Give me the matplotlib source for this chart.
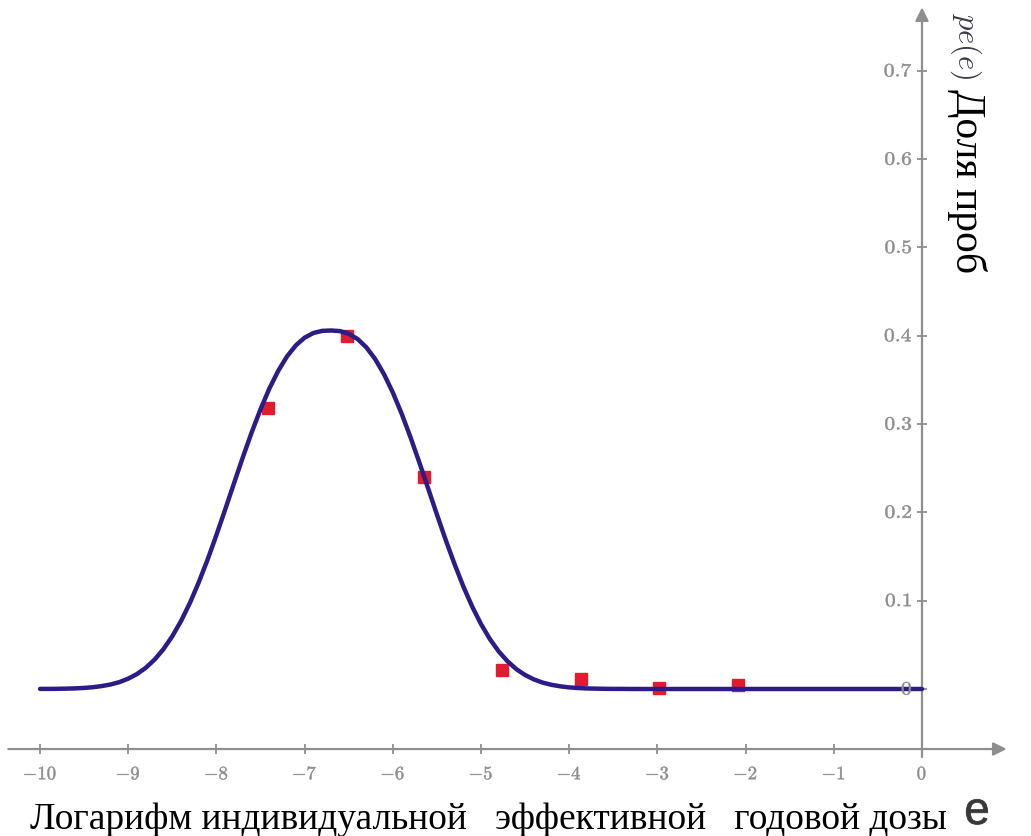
import numpy as np
import matplotlib
matplotlib.use("Agg")
import matplotlib.pyplot as plt
from matplotlib.patheffects import AbstractPathEffect
from matplotlib.transforms import Affine2D

plt.rcParams['mathtext.fontset'] = 'cm'

# ---------------- data ----------------
curve_x = [-10.0, -9.9, -9.8, -9.7, -9.6, -9.5, -9.4, -9.3, -9.2, -9.1,
           -9.0, -8.9, -8.8, -8.7, -8.6, -8.5, -8.4, -8.3, -8.2, -8.1,
           -8.0, -7.9, -7.8, -7.7, -7.6, -7.5, -7.4, -7.3, -7.2, -7.1,
           -7.0, -6.9, -6.8, -6.7, -6.6, -6.5, -6.4, -6.3, -6.2, -6.1,
           -6.0, -5.9, -5.8, -5.7, -5.6, -5.5, -5.4, -5.3, -5.2, -5.1,
           -5.0, -4.9, -4.8, -4.7, -4.6, -4.5, -4.4, -4.3, -4.2, -4.1,
           -4.0, -3.9, -3.8, -3.7, -3.6, -3.5, -3.4, -3.3, -3.2, -3.0,
           -2.5, -2.0, -1.5, -1.0, -0.5, 0.0]
curve_y = [0.0001, 0.0001, 0.0002, 0.0004, 0.0007, 0.0012, 0.0020, 0.0033, 0.0051, 0.0078,
           0.0117, 0.0170, 0.0241, 0.0334, 0.0452, 0.0598, 0.0772, 0.0976, 0.1209, 0.1466,
           0.1744, 0.2035, 0.2332, 0.2626, 0.2907, 0.3168, 0.3402, 0.3602, 0.3766, 0.3891,
           0.3979, 0.4032, 0.4056, 0.4060, 0.4053, 0.4023, 0.3964, 0.3869, 0.3736, 0.3565,
           0.3358, 0.3118, 0.2852, 0.2568, 0.2273, 0.1976, 0.1687, 0.1414, 0.1160, 0.0933,
           0.0735, 0.0566, 0.0426, 0.0314, 0.0225, 0.0158, 0.0108, 0.0072, 0.0047, 0.0030,
           0.0018, 0.0011, 0.0006, 0.0004, 0.0002, 0.0001, 0.0001, 0.0, 0.0, 0.0,
           0.0, 0.0, 0.0, 0.0, 0.0, 0.0]

points_x = [-7.42, -6.52, -5.65, -4.76, -3.87, -2.98, -2.09]
points_y = [0.318, 0.400, 0.240, 0.0215, 0.011, 0.0015, 0.0045]

x_ticks = [-10, -9, -8, -7, -6, -5, -4, -3, -2, -1, 0]
x_tick_labels = [r'$-10$', r'$-9$', r'$-8$', r'$-7$', r'$-6$', r'$-5$',
                 r'$-4$', r'$-3$', r'$-2$', r'$-1$', r'$0$']
y_ticks = [0.0, 0.1, 0.2, 0.3, 0.4, 0.5, 0.6, 0.7]
y_tick_labels = [r'$0$', r'$0.1$', r'$0.2$', r'$0.3$', r'$0.4$', r'$0.5$', r'$0.6$', r'$0.7$']

x_label = 'Логарифм индивидуальной   эффективной   годовой дозы'
x_label_var = 'e'
y_label = 'Доля проб'
y_label_var = r'$pe(e)$'

# ---------------- helpers ----------------
class StretchStroke(AbstractPathEffect):
    """Stretch rendered text horizontally about a display x anchor and
    thicken it slightly with an outline of the same colour."""
    def __init__(self, sx=1.0, x0=0.0, lw=0.0):
        super().__init__()
        self.sx = sx
        self.x0 = x0
        self.lw = lw

    def draw_path(self, renderer, gc, tpath, affine, rgbFace=None):
        a = affine + Affine2D().translate(-self.x0, 0).scale(self.sx, 1.0).translate(self.x0, 0)
        gc0 = renderer.new_gc()
        gc0.copy_properties(gc)
        if self.lw > 0 and rgbFace is not None:
            gc0.set_linewidth(self.lw)
            gc0.set_foreground(rgbFace)
        renderer.draw_path(gc0, tpath, a, rgbFace)
        gc0.restore()


fig = plt.figure(figsize=(10.31, 8.36), dpi=100)
ax = fig.add_axes([0, 0, 1, 1])
ax.set_xlim(-10.454, 1.236)
ax.set_ylim(-0.1665, 0.7803)
ax.axis('off')

axis_gray = '#8e8e8e'
label_gray = '#8c8c8c'
x_axis_y = -0.068

# axes with arrows
ax.annotate('', xy=(0.96, x_axis_y), xytext=(-10.36, x_axis_y),
            arrowprops=dict(arrowstyle='-|>', color=axis_gray, lw=1.6,
                            mutation_scale=20, shrinkA=0, shrinkB=0))
ax.annotate('', xy=(0.0, 0.772), xytext=(0.0, -0.077),
            arrowprops=dict(arrowstyle='-|>', color=axis_gray, lw=1.6,
                            mutation_scale=20, shrinkA=0, shrinkB=0))

# ticks
ax.vlines(x_ticks, x_axis_y - 0.006, x_axis_y + 0.006, color=axis_gray, lw=1.3)
ax.hlines(y_ticks, -0.06, 0.06, color=axis_gray, lw=1.3)

for t, lab in zip(x_ticks, x_tick_labels):
    px = ax.transData.transform((t, 0))[0]
    ax.text(t, x_axis_y - 0.028, lab, ha='center', va='center', fontsize=13.5,
            color=label_gray, zorder=5,
            path_effects=[StretchStroke(1.0, px, 0.35)])
for t, lab in zip(y_ticks, y_tick_labels):
    px = ax.transData.transform((-0.10, t))[0]
    ax.text(-0.10, t, lab, ha='right', va='center', fontsize=13.5,
            color=label_gray, zorder=5,
            path_effects=[StretchStroke(1.15, px, 0.35)])

# data
ax.plot(points_x, points_y, linestyle='none', marker='s', markersize=8.6,
        color='#e31b2e', zorder=3)
ax.plot(curve_x, curve_y, color='#2d1b88', lw=3.2, zorder=4,
        solid_capstyle='round', solid_joinstyle='round')

# axis titles
ax.text(-10.113, -0.1585, x_label, ha='left', va='baseline', fontsize=27,
        family='Liberation Serif', color='black')
ax.text(0.624, -0.1393, x_label_var, ha='center', va='center', fontsize=33,
        family='Liberation Sans', color='#383838',
        path_effects=[StretchStroke(1.0, 0.0, 0.6)])
ax.text(0.51, 0.575, y_label, rotation=-90, ha='center', va='center', fontsize=30,
        family='Liberation Serif', color='black')
ax.text(0.50, 0.729, y_label_var, rotation=-90, ha='center', va='center', fontsize=22,
        color='#3a3a48')

fig.savefig('out.png', dpi=100)
